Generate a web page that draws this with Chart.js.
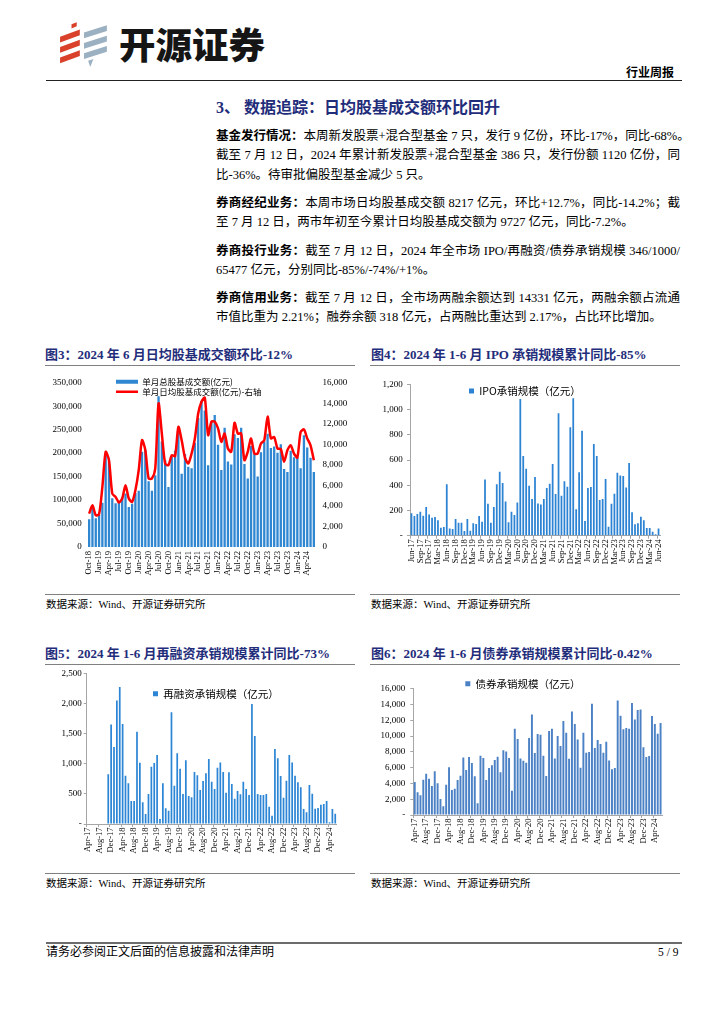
<!DOCTYPE html>
<html><head><meta charset="utf-8">
<script src="https://cdn.jsdelivr.net/npm/chart.js@4.4.1/dist/chart.umd.min.js"></script>
<style>
html,body{margin:0;padding:0;background:#fff;}
body{width:724px;height:1024px;position:relative;overflow:hidden;font-family:"Liberation Serif","Noto Sans CJK SC",serif;color:#000;}
.abs{position:absolute;white-space:nowrap;}
.ln{position:absolute;left:216px;width:464px;height:19px;line-height:19px;font-size:12.5px;white-space:nowrap;}
.j{text-align:justify;text-align-last:justify;}
.ln b{font-family:"Liberation Serif","Noto Sans CJK SC";font-weight:700;}
.ttl{position:absolute;font-size:13px;font-weight:700;color:#1f2d7b;white-space:nowrap;height:18px;line-height:18px;}
.src{position:absolute;font-size:10.5px;white-space:nowrap;height:14px;line-height:14px;}
.hr{position:absolute;height:0;}
canvas{position:absolute;}
</style></head>
<body>
<svg class="abs" style="left:58px;top:21px" width="52" height="46" viewBox="0 0 50 44">
  <polygon points="13,3 18,1 18,5 13,7" fill="#d9412b"/>
  <polygon points="2,15 21,8 21,13.5 2,20.5" fill="#d9412b"/>
  <polygon points="2,25 21,18 21,23.5 2,30.5" fill="#d9412b"/>
  <polygon points="2,35 21,28 21,33.5 2,40.5" fill="#d9412b"/>
  <polygon points="25,11 47,4 47,9.5 25,16.5" fill="#9bb1c2"/>
  <polygon points="25,21 47,14 47,19.5 25,26.5" fill="#9bb1c2"/>
  <polygon points="25,31 47,24 47,29.5 25,36.5" fill="#9bb1c2"/>
  <polygon points="29,38 34,36.5 31,44" fill="#9bb1c2"/>
</svg>
<div class="abs" style="left:119px;top:24px;font-family:'Noto Sans CJK SC';font-weight:900;font-size:36.5px;line-height:40px;color:#151515;">开源证券</div>
<div class="abs" style="left:626px;top:65px;font-family:'Noto Sans CJK SC';font-weight:700;font-size:12px;line-height:14px;">行业周报</div>
<div class="hr" style="left:46px;top:79.5px;width:636px;border-top:1.6px solid #222;"></div>

<div class="abs" style="left:216px;top:97px;font-size:16px;font-weight:700;line-height:22px;color:#1f2d7b;">3、 数据追踪：日均股基成交额环比回升</div>

<div class="ln j" style="top:127px"><b>基金发行情况：</b>本周新发股票+混合型基金 7 只，发行 9 亿份，环比-17%，同比-68%。</div>
<div class="ln j" style="top:146px">截至 7 月 12 日，2024 年累计新发股票+混合型基金 386 只，发行份额 1120 亿份，同</div>
<div class="ln" style="top:165.5px">比-36%。待审批偏股型基金减少 5 只。</div>

<div class="ln j" style="top:194px"><b>券商经纪业务：</b>本周市场日均股基成交额 8217 亿元，环比+12.7%，同比-14.2%；截</div>
<div class="ln" style="top:213px">至 7 月 12 日，两市年初至今累计日均股基成交额为 9727 亿元，同比-7.2%。</div>

<div class="ln j" style="top:241.5px"><b>券商投行业务：</b>截至 7 月 12 日，2024 年全市场 IPO/再融资/债券承销规模 346/1000/</div>
<div class="ln" style="top:260.5px">65477 亿元，分别同比-85%/-74%/+1%。</div>

<div class="ln j" style="top:289px"><b>券商信用业务：</b>截至 7 月 12 日，全市场两融余额达到 14331 亿元，两融余额占流通</div>
<div class="ln" style="top:308px">市值比重为 2.21%；融券余额 318 亿元，占两融比重达到 2.17%，占比环比增加。</div>

<div class="ttl" style="left:45px;top:346px">图3：2024 年 6 月日均股基成交额环比-12%</div>
<div class="ttl" style="left:371px;top:346px">图4：2024 年 1-6 月 IPO 承销规模累计同比-85%</div>
<div class="hr" style="left:45px;top:364.5px;width:310px;border-top:1.5px solid #808080;"></div>
<div class="hr" style="left:370px;top:364.5px;width:310px;border-top:1.5px solid #808080;"></div>

<canvas id="c3" width="312" height="226" style="left:45px;top:368px"></canvas>
<canvas id="c4" width="320" height="226" style="left:362px;top:368px"></canvas>

<div class="hr" style="left:45px;top:593.5px;width:310px;border-top:1.5px solid #808080;"></div>
<div class="hr" style="left:370px;top:593.5px;width:310px;border-top:1.5px solid #808080;"></div>
<div class="src" style="left:46px;top:598px">数据来源：Wind、开源证券研究所</div>
<div class="src" style="left:371px;top:598px">数据来源：Wind、开源证券研究所</div>

<div class="ttl" style="left:45px;top:645px">图5：2024 年 1-6 月再融资承销规模累计同比-73%</div>
<div class="ttl" style="left:371px;top:645px">图6：2024 年 1-6 月债券承销规模累计同比-0.42%</div>
<div class="hr" style="left:45px;top:664px;width:310px;border-top:1.5px solid #808080;"></div>
<div class="hr" style="left:370px;top:664px;width:310px;border-top:1.5px solid #808080;"></div>

<canvas id="c5" width="312" height="208" style="left:45px;top:664px"></canvas>
<canvas id="c6" width="320" height="202" style="left:362px;top:670px"></canvas>

<div class="hr" style="left:45px;top:872.5px;width:310px;border-top:1.5px solid #808080;"></div>
<div class="hr" style="left:370px;top:872.5px;width:310px;border-top:1.5px solid #808080;"></div>
<div class="src" style="left:46px;top:876.5px">数据来源：Wind、开源证券研究所</div>
<div class="src" style="left:371px;top:876.5px">数据来源：Wind、开源证券研究所</div>

<div class="hr" style="left:46px;top:942px;width:636px;border-top:2px solid #6b6b6b;"></div>
<div class="abs" style="left:46px;top:945px;font-size:12px;line-height:15px;">请务必参阅正文后面的信息披露和法律声明</div>
<div class="abs" style="left:658px;top:945px;font-size:11.5px;line-height:15px;">5 / 9</div>

<script>
// ---------- data ----------
const MON = ['Jan','Feb','Mar','Apr','May','Jun','Jul','Aug','Sep','Oct','Nov','Dec'];
function monthLabels(year, month, count) {
  const out = [];
  for (let i = 0; i < count; i++) {
    const k = month - 1 + i;
    out.push(MON[k % 12] + '-' + String((year + Math.floor(k / 12)) % 100).padStart(2, '0'));
  }
  return out;
}

// Fig.3 monthly turnover, Oct-18 .. Jun-24
const tradeMonths = monthLabels(2018, 10, 69);
const tradeTotal = [59000,85000,61000,68000,94000,195000,182000,104000,93000,96000,
  106000,114000,85000,92000,115000,120000,203000,207000,140000,120000,
  153000,321000,225000,185000,128000,192000,205000,245000,156000,198000,
  171000,168000,222000,275000,311000,291000,174000,268000,281000,218000,
  164000,254000,182000,176000,240000,232000,254000,177000,146000,215000,
  200000,150000,202000,225000,241000,211000,214000,201000,219000,166000,
  160000,205000,191000,191000,168000,238000,212000,190000,160000];
const tradeDaily = [3250,4070,3090,3190,5850,9270,8450,5200,4880,4330,
  4720,6020,4720,4390,5530,7480,10400,9430,6670,6670,
  7640,13980,11050,8130,7970,8940,8850,11700,10400,8700,
  8130,9100,10570,13000,14150,14540,10900,12200,12200,11550,
  10240,11050,9590,9270,12100,11050,11050,8450,9270,10570,
  9100,9100,10080,10400,12700,10570,10700,9590,9530,8290,
  9430,9900,9100,8700,11200,11450,10570,9900,8450];

// Fig.4 IPO underwriting, Jun-17 .. Jun-24
const ipoMonths = monthLabels(2017, 6, 85);
const ipoValues = [177,156,172,190,159,227,169,143,148,122,
  63,69,407,58,53,132,103,103,37,132,
  40,98,92,156,111,446,254,103,227,407,
  507,417,272,106,190,164,264,1083,631,531,
  396,291,465,256,248,291,378,412,568,330,
  970,317,431,388,859,1089,209,502,832,116,
  378,386,727,631,283,291,449,71,254,333,
  499,478,473,383,576,185,90,98,151,122,
  61,61,32,11,58];

// Fig.5 refinancing underwriting, Apr-17 .. Jun-24
const refiMonths = monthLabels(2017, 4, 87);
const refiValues = [null,null,null,null,null,null,null,
  826,1657,1280,2056,2278,1663,804,676,382,382,
  1535,1020,360,166,499,953,1014,1147,83,676,
  260,222,1857,637,1175,920,499,1059,466,443,
  865,809,565,715,843,1081,704,582,937,1025,
  865,521,859,665,421,549,493,704,582,482,
  1995,1463,499,482,482,499,288,139,1247,1092,
  798,438,720,1147,1025,804,693,610,249,194,
  649,504,255,266,321,333,382,28,249,172];

// Fig.6 bond underwriting, Apr-17 .. Jun-24
const bondMonths = monthLabels(2017, 4, 87);
const bondValues = [4180,2870,2490,4470,5230,4600,3670,5530,4010,2030,
  1100,3840,6040,3170,3330,4430,4980,7300,5700,7340,
  6580,4900,1480,7510,7220,4430,5950,6290,6960,7390,
  5400,8190,8060,7220,3080,10930,9620,7170,6880,6630,
  9750,12740,7850,10260,10170,7510,4940,10630,10930,7170,
  10000,8740,11900,10420,7130,13120,11520,9580,5990,10420,
  7890,7980,14100,8480,9500,8990,7890,9280,6920,5780,
  5950,14520,12580,10850,11010,10930,14180,12110,13290,13380,
  8570,7340,7470,12530,11520,10300,11650];

// ---------- helpers ----------
const SERIF = '"Liberation Serif", "Noto Sans CJK SC", serif';
const CJK = '"Noto Sans CJK SC", sans-serif';
Chart.defaults.font.family = SERIF;
Chart.defaults.color = '#000';

const legendPlace = {
  id: 'legendPlace',
  afterLayout(chart, args, opts) {
    const lg = chart.legend;
    if (!lg || opts.x == null) return;
    const pad = lg.options.labels.padding || 0;
    const dx = opts.x - pad - lg.left;
    const dy = opts.y - pad - lg.top;
    lg.left += dx; lg.right += dx; lg.top += dy; lg.bottom += dy;
  }
};
const fmt = v => Number(v).toLocaleString('en-US');
const fmtDash = v => v === 0 ? '-' : Number(v).toLocaleString('en-US');
function everyN(n) {
  return function (v, i) { return i % n === 0 ? this.getLabelForValue(v) : ''; };
}
const AX = '#a6a6a6';

// ---------- Fig.3 ----------
new Chart(document.getElementById('c3'), {
  data: {
    labels: tradeMonths,
    datasets: [
      { type: 'bar', label: '单月总股基成交额(亿元)', data: tradeTotal, yAxisID: 'y',
        backgroundColor: '#2f86d1', barPercentage: 0.7, categoryPercentage: 1, order: 1, pointStyle: 'rect' },
      { type: 'line', label: '单月日均股基成交额(亿元)-右轴', data: tradeDaily, yAxisID: 'y1',
        borderColor: '#ff0000', backgroundColor: '#ff0000', borderWidth: 2.5, pointRadius: 0,
        pointBorderColor: '#ff0000', pointBorderWidth: 2.5, tension: 0.25, order: 0, pointStyle: 'line' }
    ]
  },
  options: {
    responsive: false, animation: false,
    layout: { padding: { top: 14.7, left: 0, right: 0, bottom: 0 } },
    plugins: {
      legend: { position: 'chartArea', align: 'start',
        labels: { usePointStyle: true, pointStyleWidth: 22, boxHeight: 4, padding: 1.5,
          font: { size: 8.5, family: CJK }, color: '#000', sort: (a, b) => a.datasetIndex - b.datasetIndex } },
      legendPlace: { x: 71, y: 9.4 },
      tooltip: { enabled: false }
    },
    scales: {
      x: { grid: { display: false, drawTicks: false }, border: { display: false },
        ticks: { autoSkip: false, maxRotation: 90, minRotation: 90, padding: 4, font: { size: 8.5 }, callback: everyN(3) },
        afterFit(s) { s.height = 47; } },
      y: { position: 'left', min: 0, max: 350000,
        ticks: { stepSize: 50000, padding: 5.8, font: { size: 9 }, callback: fmt },
        grid: { display: false, drawTicks: false }, border: { display: false },
        afterFit(s) { s.width = 42.5; } },
      y1: { position: 'right', min: 0, max: 16000,
        ticks: { stepSize: 2000, padding: 7, font: { size: 9 }, callback: fmt },
        grid: { display: false, drawTicks: false }, border: { display: false },
        afterFit(s) { s.width = 41.5; } }
    }
  },
  plugins: [legendPlace]
});

// ---------- single-series bar charts ----------
function barChart(id, cfg) {
  return new Chart(document.getElementById(id), {
    type: 'bar',
    data: { labels: cfg.labels, datasets: [{ label: cfg.label, data: cfg.data, backgroundColor: cfg.color,
      barPercentage: cfg.barPct, categoryPercentage: 1 }] },
    options: {
      responsive: false, animation: false,
      layout: { padding: { top: cfg.top, right: cfg.right, left: 0, bottom: 0 } },
      plugins: {
        legend: { position: 'chartArea', align: 'start',
          labels: { boxWidth: 5, boxHeight: 5, padding: 1, font: { size: 10.5, family: CJK }, color: '#000' } },
        legendPlace: { x: cfg.legX, y: cfg.legY },
        tooltip: { enabled: false }
      },
      scales: {
        x: { grid: { display: true, drawOnChartArea: false, tickLength: 3,
              color: c => (c.index % cfg.every === 0 ? AX : 'rgba(0,0,0,0)') },
          border: { display: true, color: AX },
          ticks: { autoSkip: false, maxRotation: 90, minRotation: 90, padding: 0.5, font: { size: 8.5 }, callback: everyN(cfg.every) },
          afterFit(s) { s.height = cfg.xh; } },
        y: { min: 0, max: cfg.max,
          ticks: { stepSize: cfg.step, padding: cfg.ypad, font: { size: 9 }, callback: fmtDash },
          grid: { display: true, drawOnChartArea: false, tickLength: 3, color: AX },
          border: { display: true, color: AX },
          afterFit(s) { s.width = cfg.yw; } }
      }
    },
    plugins: [legendPlace]
  });
}

barChart('c4', { labels: ipoMonths, data: ipoValues, label: 'IPO承销规模（亿元）', color: '#2c83d3',
  barPct: 0.6, top: 16.3, right: 22, xh: 58.3, yw: 48, max: 1200, step: 200, ypad: 4.3, every: 3, legX: 107, legY: 17.7 });

barChart('c5', { labels: refiMonths, data: refiValues, label: '再融资承销规模（亿元）', color: '#2c86d5',
  barPct: 0.6, top: 9.7, right: 20.3, xh: 48, yw: 41.7, max: 2500, step: 500, ypad: 2, every: 4, legX: 108, legY: 24.4 });

barChart('c6', { labels: bondMonths, data: bondValues, label: '债券承销规模（亿元）', color: '#4c82c5',
  barPct: 0.68, top: 18.7, right: 20, xh: 57, yw: 51.3, max: 16000, step: 2000, ypad: 5, every: 4, legX: 103.3, legY: 8.4 });
</script>
</body></html>
